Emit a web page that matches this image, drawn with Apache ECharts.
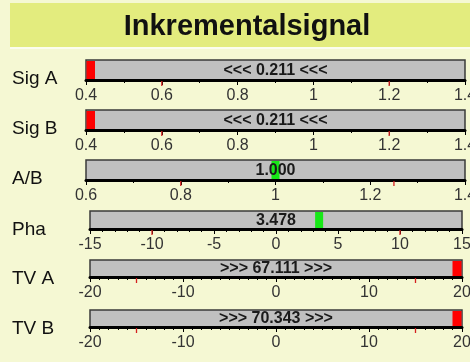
<!DOCTYPE html>
<html><head><meta charset="utf-8">
<script src="https://cdn.jsdelivr.net/npm/echarts@6/dist/echarts.min.js"></script>
<style>html,body{margin:0;padding:0;background:#f5f8d3}#c{width:470px;height:362px}</style>
</head><body><div id="c"></div>
<script>
// ---- data ----
const titleText = 'Inkrementalsignal';
const rowLabels = ['Sig A', 'Sig B', 'A/B', 'Pha', 'TV A', 'TV B'];
const values = [0.211, 0.211, 1.000, 3.478, 67.111, 70.343];
const axisMin = [0.4, 0.4, 0.6, -15, -20, -20];
const axisMax = [1.4, 1.4, 1.4, 15, 20, 20];
const tickInterval = [0.2, 0.2, 0.2, 5, 10, 10];
const minorSplit = [2, 2, 2, 5, 10, 10];
const limitLow = [0.6, 0.6, 0.8, -10, -15, -15];
const limitHigh = [1.2, 1.2, 1.25, 10, 15, 15];

// ---- layout (not data) ----
const rowTop = [60, 110, 160, 211, 260, 310];
const rowHeight = [20, 20, 20, 18, 17, 17];
const rowLeft = [86, 86, 86, 90, 90, 90];
const rowRight = [5, 5, 5, 8, 8, 8];
const FONT = '"Liberation Sans", Arial, sans-serif';

const grids = [], xAxes = [], yAxes = [], series = [], graphics = [];

graphics.push({type: 'rect', shape: {x: 10, y: 3, width: 460, height: 44}, style: {fill: '#e3ec7e'}});
graphics.push({type: 'rect', shape: {x: 10, y: 47, width: 460, height: 2}, style: {fill: '#fbfdee'}});
graphics.push({type: 'text', x: 247, y: 27, style: {text: titleText, font: 'bold 29px ' + FONT, fill: '#111', align: 'center', verticalAlign: 'middle'}});

function fmt(i) {
  const v = values[i];
  const s = v.toFixed(3);
  if (v < axisMin[i]) return '<<< ' + s + ' <<<';
  if (v > axisMax[i]) return '>>> ' + s + ' >>>';
  return s;
}

rowLabels.forEach((lab, i) => {
  grids.push({left: rowLeft[i], right: rowRight[i], top: rowTop[i], height: rowHeight[i],
    containLabel: false, outerBoundsMode: 'none',
    show: true, backgroundColor: '#c0c0c0', borderColor: '#3a3a3a', borderWidth: 1.5});
  xAxes.push({gridIndex: i, type: 'value', min: axisMin[i], max: axisMax[i], interval: tickInterval[i],
    axisLine: {show: true, onZero: false, lineStyle: {color: '#000', width: 3}},
    axisTick: {show: true, length: 5, lineStyle: {color: '#000', width: 1}},
    minorTick: {show: true, splitNumber: minorSplit[i], length: 3, lineStyle: {color: '#000', width: 1}},
    splitLine: {show: false}, minorSplitLine: {show: false},
    axisLabel: {margin: 8, fontSize: 16, color: '#333', fontFamily: FONT, showMinLabel: true, showMaxLabel: true, hideOverlap: false}
  });
  yAxes.push({gridIndex: i, type: 'value', min: 0, max: 1, show: false});
  graphics.push({type: 'text', x: 12, y: rowTop[i] + 19, style: {text: lab, font: '19px ' + FONT, fill: '#111', align: 'left', verticalAlign: 'middle'}});

  // value marker + value text
  series.push({
    type: 'custom', xAxisIndex: i, yAxisIndex: i, z: 3, silent: true,
    data: [[values[i]]],
    renderItem: function (params, api) {
      const v = api.value(0);
      const lo = axisMin[i], hi = axisMax[i];
      const pLo = api.coord([lo, 0]);
      const pHi = api.coord([hi, 1]);
      const top = pHi[1] + 1, bottom = pLo[1] - 1;
      let x, w, col;
      if (v < lo) { x = pLo[0] + 0.5; w = 8.5; col = '#ff0000'; }
      else if (v > hi) { x = pHi[0] - 9.5; w = 9; col = '#ff0000'; }
      else { x = api.coord([v, 0])[0] - 4; w = 8; col = '#17e817'; }
      const cx = api.coord([(lo + hi) / 2, 0])[0];
      return {type: 'group', children: [
        {type: 'rect', shape: {x: x, y: top, width: w, height: bottom - top}, style: {fill: col}},
        {type: 'text', x: cx, y: (top + bottom) / 2 + 0.5, style: {text: fmt(i), font: 'bold 16px ' + FONT, fill: '#1a1a1a', align: 'center', verticalAlign: 'middle'}}
      ]};
    }
  });

  // red limit ticks
  series.push({
    type: 'custom', xAxisIndex: i, yAxisIndex: i, z: 4, silent: true,
    data: [[limitLow[i]], [limitHigh[i]]],
    renderItem: function (params, api) {
      const p = api.coord([api.value(0), 0]);
      return {type: 'line', shape: {x1: p[0], y1: p[1] + 1, x2: p[0], y2: p[1] + 6}, style: {stroke: '#d42020', lineWidth: 1.3}};
    }
  });
});

const chart = echarts.init(document.getElementById('c'), null, {renderer: 'canvas'});
chart.setOption({
  animation: false,
  backgroundColor: '#f5f8d3',
  grid: grids, xAxis: xAxes, yAxis: yAxes, series: series, graphic: graphics
});
</script></body></html>
